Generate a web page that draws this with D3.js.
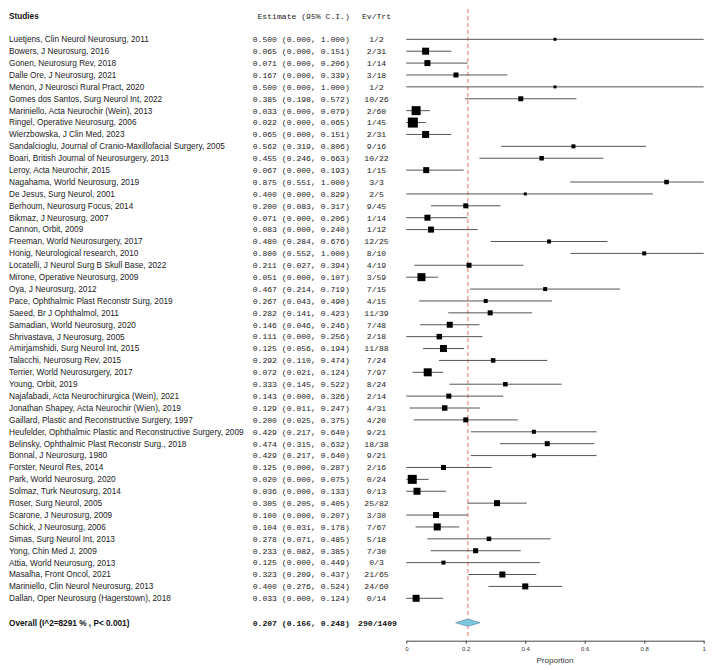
<!DOCTYPE html>
<html><head><meta charset="utf-8">
<script src="https://cdn.jsdelivr.net/npm/d3@7"></script>
<style>
html,body{margin:0;padding:0;background:#fff;}
svg{display:block;}
</style>
</head><body>
<div id="chart"></div>
<script>
const studies = [
"Luetjens, Clin Neurol Neurosurg, 2011",
"Bowers, J Neurosurg, 2016",
"Gonen, Neurosurg Rev, 2018",
"Dalle Ore, J Neurosurg, 2021",
"Menon, J Neurosci Rural Pract, 2020",
"Gomes dos Santos, Surg Neurol Int, 2022",
"Mariniello, Acta Neurochir (Wein), 2013",
"Ringel, Operative Neurosurg, 2006",
"Wierzbowska, J Clin Med, 2023",
"Sandalcioglu, Journal of Cranio-Maxillofacial Surgery, 2005",
"Boari, British Journal of Neurosurgery, 2013",
"Leroy, Acta Neurochir, 2015",
"Nagahama, World Neurosurg, 2019",
"De Jesus, Surg Neurol, 2001",
"Berhoum, Neurosurg Focus, 2014",
"Bikmaz, J Neurosurg, 2007",
"Cannon, Orbit, 2009",
"Freeman, World Neurosurgery, 2017",
"Honig, Neurological research, 2010",
"Locatelli, J Neurol Surg B Skull Base, 2022",
"Mirone, Operative Neurosurg, 2009",
"Oya, J Neurosurg, 2012",
"Pace, Ophthalmic Plast Reconstr Surg, 2019",
"Saeed, Br J Ophthalmol, 2011",
"Samadian, World Neurosurg, 2020",
"Shrivastava, J Neurosurg, 2005",
"Amirjamshidi, Surg Neurol Int, 2015",
"Talacchi, Neurosurg Rev, 2015",
"Terrier, World Neurosurgery, 2017",
"Young, Orbit, 2019",
"Najafabadi, Acta Neurochirurgica (Wein), 2021",
"Jonathan Shapey, Acta Neurochir (Wien), 2019",
"Gaillard, Plastic and Reconstructive Surgery, 1997",
"Heufelder, Ophthalmic Plastic and Reconstructive Surgery, 2009",
"Belinsky, Ophthalmic Plast Reconstr Surg., 2018",
"Bonnal, J Neurosurg, 1980",
"Forster, Neurol Res, 2014",
"Park, World Neurosurg, 2020",
"Solmaz, Turk Neurosurg, 2014",
"Roser, Surg Neurol, 2005",
"Scarone, J Neurosurg, 2009",
"Schick, J Neurosurg, 2006",
"Simas, Surg Neurol Int, 2013",
"Yong, Chin Med J, 2009",
"Attia, World Neurosurg, 2013",
"Masalha, Front Oncol, 2021",
"Mariniello, Clin Neurol Neurosurg, 2013",
"Dallan, Oper Neurosurg (Hagerstown), 2018"
];
const estimates = [0.500,0.065,0.071,0.167,0.500,0.385,0.033,0.022,0.065,0.562,0.455,0.067,0.875,0.400,0.200,0.071,0.083,0.480,0.800,0.211,0.051,0.467,0.267,0.282,0.146,0.111,0.125,0.292,0.072,0.333,0.143,0.129,0.200,0.429,0.474,0.429,0.125,0.020,0.036,0.305,0.100,0.104,0.278,0.233,0.125,0.323,0.400,0.033];
const lower = [0.000,0.000,0.000,0.000,0.000,0.198,0.000,0.000,0.000,0.319,0.246,0.000,0.551,0.000,0.083,0.000,0.000,0.284,0.552,0.027,0.000,0.214,0.043,0.141,0.046,0.000,0.056,0.110,0.021,0.145,0.000,0.011,0.025,0.217,0.315,0.217,0.000,0.000,0.000,0.205,0.000,0.031,0.071,0.082,0.000,0.209,0.276,0.000];
const upper = [1.000,0.151,0.206,0.339,1.000,0.572,0.079,0.065,0.151,0.806,0.663,0.193,1.000,0.829,0.317,0.206,0.240,0.676,1.000,0.394,0.107,0.719,0.490,0.423,0.246,0.256,0.194,0.474,0.124,0.522,0.326,0.247,0.375,0.640,0.632,0.640,0.287,0.075,0.133,0.405,0.207,0.178,0.485,0.385,0.449,0.437,0.524,0.124];
const evTrt = ["1/2","2/31","1/14","3/18","1/2","10/26","2/60","1/45","2/31","9/16","10/22","1/15","3/3","2/5","9/45","1/14","1/12","12/25","8/10","4/19","3/59","7/15","4/15","11/39","7/48","2/18","11/88","7/24","7/97","8/24","2/14","4/31","4/20","9/21","18/38","9/21","2/16","0/24","0/13","25/82","3/30","7/67","5/18","7/30","0/3","21/65","24/60","0/14"];
// study weights (%)
const weights = [0.57,3.11,2.29,1.59,0.57,1.59,5.14,6.35,3.11,1.02,1.29,2.29,1.29,0.57,1.59,2.29,2.29,1.02,1.02,1.59,4.06,1.02,1.02,1.59,2.29,1.92,3.11,1.29,4.06,1.29,1.59,1.92,1.59,1.02,1.59,1.02,1.59,5.14,3.11,2.29,2.29,3.11,1.29,1.59,1.02,2.29,2.29,3.11];
const overallLabel = "Overall (I^2=8291 % , P< 0.001)";
const overall = {est:0.207, lo:0.166, hi:0.248, ev:"290/1409"};
const tickValues = [0,0.2,0.4,0.6,0.8,1];
const tickLabels = ["0","0.2","0.4","0.6","0.8","1"];

const W = 712, H = 670;
const svg = d3.select("#chart").append("svg").attr("width",W).attr("height",H);

const x = d3.scaleLinear().domain([0,1]).range([406.3,703.7]);
const y = d3.scalePoint().domain(d3.range(studies.length)).range([39.3,598.3]);
const yHeader = 15.7, yOverall = 622.7, yAxis = 640.7;
const size = d3.scaleSqrt().domain([0, d3.max(weights)]).range([0, 10]);

const sans = "Liberation Sans, Arial, sans-serif";
const mono = "Liberation Mono, Courier New, monospace";
const fmt = d3.format(".3f");
const fsSans = 8.25;

// headers
svg.append("text").attr("x",9).attr("y",yHeader).attr("dy","0.35em")
  .attr("font-family",sans).attr("font-size",fsSans).attr("font-weight","bold").attr("fill","#111").text("Studies");
svg.append("text").attr("x",257.5).attr("y",yHeader).attr("dy","0.35em")
  .attr("font-family",mono).attr("font-size",8.1).attr("fill","#222").text("Estimate (95% C.I.)");
svg.append("text").attr("x",376.5).attr("y",yHeader).attr("dy","0.35em").attr("text-anchor","middle")
  .attr("font-family",mono).attr("font-size",8.1).attr("fill","#222").text("Ev/Trt");

// reference line
svg.append("line").attr("x1",x(overall.est)).attr("x2",x(overall.est))
  .attr("y1",9).attr("y2",636).attr("stroke","#f07070").attr("stroke-width",1)
  .attr("stroke-dasharray","4,3");

const rows = svg.append("g").selectAll("g").data(studies).join("g")
  .attr("transform",(d,i)=>`translate(0,${y(i)})`);

rows.append("text").attr("x",9).attr("dy","0.35em")
  .attr("font-family",sans).attr("font-size",fsSans).attr("fill","#222").text(d=>d);
rows.append("text").attr("x",252.7).attr("dy","0.35em")
  .attr("font-family",mono).attr("font-size",8.1).attr("fill","#222")
  .text((d,i)=>`${fmt(estimates[i])} (${fmt(lower[i])}, ${fmt(upper[i])})`);
rows.append("text").attr("x",376.5).attr("dy","0.35em").attr("text-anchor","middle")
  .attr("font-family",mono).attr("font-size",8.1).attr("fill","#222")
  .text((d,i)=>evTrt[i]);
rows.append("line").attr("x1",(d,i)=>x(lower[i])).attr("x2",(d,i)=>x(upper[i]))
  .attr("stroke","#555").attr("stroke-width",1);
rows.append("rect")
  .attr("x",(d,i)=>x(estimates[i]) - size(weights[i])/2)
  .attr("y",(d,i)=>-size(weights[i])/2)
  .attr("width",(d,i)=>size(weights[i]))
  .attr("height",(d,i)=>size(weights[i]))
  .attr("fill","#000");

// overall
svg.append("text").attr("x",9).attr("y",yOverall).attr("dy","0.35em")
  .attr("font-family",sans).attr("font-size",fsSans).attr("font-weight","bold").attr("fill","#111").text(overallLabel);
svg.append("text").attr("x",252.7).attr("y",yOverall).attr("dy","0.35em")
  .attr("font-family",mono).attr("font-size",8.1).attr("font-weight","bold").attr("fill","#111")
  .text(`${fmt(overall.est)} (${fmt(overall.lo)}, ${fmt(overall.hi)})`);
svg.append("text").attr("x",377.5).attr("y",yOverall).attr("dy","0.35em").attr("text-anchor","middle")
  .attr("font-family",mono).attr("font-size",8.1).attr("font-weight","bold").attr("fill","#111")
  .text(overall.ev);
const dh = 3.6;
svg.append("path")
  .attr("d",`M${x(overall.lo)},${yOverall} L${x(overall.est)},${yOverall-dh} L${x(overall.hi)},${yOverall} L${x(overall.est)},${yOverall+dh} Z`)
  .attr("fill","#7cc8e0").attr("stroke","#5a8fa8").attr("stroke-width",0.7);

// axis
const axis = d3.axisBottom(x).tickValues(tickValues).tickFormat((d,i)=>tickLabels[i])
  .tickSize(3).tickSizeOuter(0).tickPadding(3);
const ga = svg.append("g").attr("transform",`translate(0,${yAxis})`).call(axis);
ga.select(".domain").attr("stroke","#444");
ga.selectAll(".tick line").attr("stroke","#444");
ga.selectAll(".tick text").attr("font-family",sans).attr("font-size",6).attr("fill","#333");
svg.append("text").attr("x",x(0.5)).attr("y",660.5).attr("dy","0.35em").attr("text-anchor","middle")
  .attr("font-family",sans).attr("font-size",8).attr("fill","#333").text("Proportion");
</script>
</body></html>
